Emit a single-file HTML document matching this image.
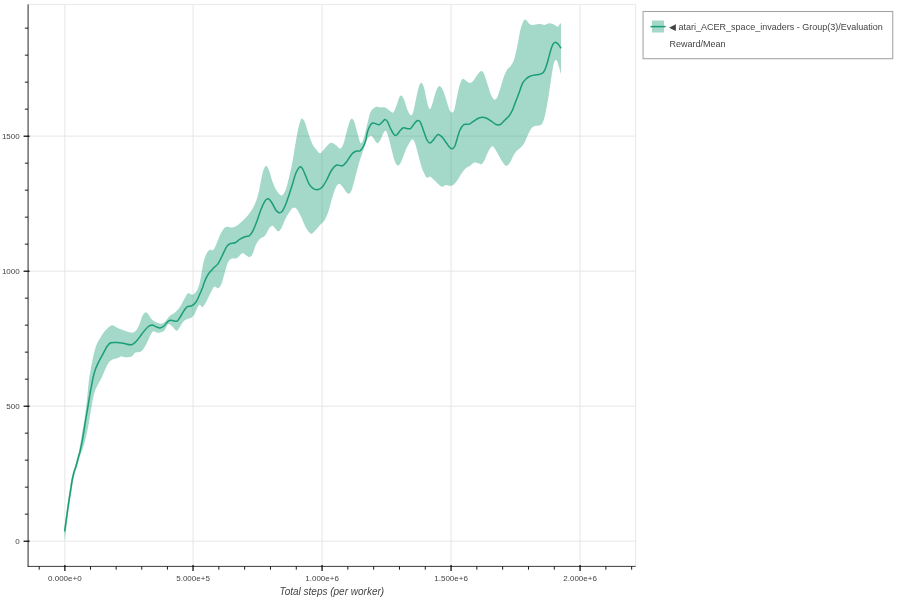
<!DOCTYPE html>
<html><head><meta charset="utf-8"><title>Plot</title>
<style>html,body{margin:0;padding:0;background:#fff;width:900px;height:600px;overflow:hidden}</style></head>
<body>
<svg width="900" height="600" viewBox="0 0 900 600" style="position:absolute;left:0;top:0">
<rect x="0" y="0" width="900" height="600" fill="#fff"/>
<path d="M64.85 4.40V566.40M193.05 4.40V566.40M322.07 4.40V566.40M451.07 4.40V566.40M580.07 4.40V566.40M28.08 541.15H635.60M28.08 406.15H635.60M28.08 271.15H635.60M28.08 136.15H635.60" stroke="#e5e5e5" stroke-width="0.95" fill="none"/>
<path d="M28.08 4.40H635.60V566.40" stroke="#e5e5e5" stroke-width="0.85" fill="none"/>
<path d="M64.3 530.0C64.8 526.1 66.3 513.3 67.2 506.5C68.1 499.7 69.1 493.7 69.8 489.0C70.5 484.3 70.9 481.4 71.5 478.5C72.1 475.6 72.6 473.5 73.2 471.5C73.8 469.5 74.3 468.8 75.0 466.3C75.7 463.8 76.8 459.3 77.5 456.6C78.2 453.9 78.4 454.6 79.2 450.0C80.1 445.4 81.8 434.8 82.8 429.0C83.7 423.2 84.5 419.3 85.1 415.0C85.7 410.7 86.1 407.2 86.6 403.3C87.0 399.4 87.5 395.0 87.8 391.7C88.1 388.4 88.2 386.6 88.6 383.5C89.0 380.4 89.3 377.2 90.0 373.3C90.7 369.4 91.5 364.4 92.5 360.0C93.5 355.6 94.5 350.3 95.8 346.7C97.0 343.1 98.5 340.9 100.0 338.3C101.5 335.7 103.3 332.8 105.0 330.8C106.7 328.8 108.6 327.1 110.0 326.2C111.4 325.3 111.9 325.1 113.3 325.5C114.7 325.9 116.3 327.4 118.3 328.3C120.2 329.2 122.8 330.1 125.0 330.8C127.2 331.6 129.9 332.8 131.7 332.8C133.5 332.8 134.6 332.1 135.8 330.8C137.1 329.5 138.1 327.5 139.2 325.0C140.3 322.5 141.4 317.9 142.5 315.8C143.6 313.7 144.5 312.5 145.5 312.2C146.5 311.9 147.3 313.0 148.3 314.2C149.3 315.4 150.3 317.8 151.7 319.2C153.1 320.6 155.2 321.8 156.7 322.5C158.2 323.2 159.4 323.8 160.8 323.7C162.2 323.6 163.5 323.0 165.0 321.7C166.5 320.4 168.3 317.3 170.0 315.8C171.7 314.3 173.3 314.0 175.0 312.5C176.7 311.0 178.5 308.9 180.0 306.7C181.5 304.5 182.9 301.4 184.2 299.2C185.5 297.0 186.6 294.1 188.0 293.3C189.4 292.6 191.1 295.1 192.5 294.7C193.9 294.3 195.4 293.0 196.7 290.8C197.9 288.6 198.9 286.3 200.0 281.7C201.1 277.1 202.2 268.0 203.3 263.3C204.4 258.6 205.6 255.6 206.7 253.3C207.8 251.0 208.9 250.2 210.0 249.7C211.1 249.1 212.2 251.1 213.3 250.0C214.4 248.9 215.6 245.8 216.7 243.3C217.8 240.8 218.8 237.5 220.0 235.0C221.2 232.5 222.9 229.7 224.2 228.3C225.4 226.9 226.1 226.8 227.5 226.7C228.9 226.6 231.0 227.7 232.5 227.5C234.0 227.3 235.3 226.6 236.7 225.8C238.1 225.0 239.1 224.0 240.8 222.5C242.5 221.0 244.9 218.8 246.7 216.7C248.5 214.6 250.2 212.5 251.7 210.0C253.2 207.5 254.6 205.0 255.8 201.7C257.1 198.4 258.1 194.7 259.2 190.0C260.3 185.3 261.5 177.2 262.5 173.3C263.5 169.4 264.3 167.9 265.0 166.7C265.7 165.5 266.0 165.5 266.7 166.2C267.4 166.9 268.2 168.2 269.2 170.8C270.2 173.4 271.2 178.4 272.5 181.7C273.8 185.0 275.3 188.5 276.7 190.8C278.1 193.1 279.7 194.7 280.8 195.3C281.9 195.9 282.3 195.6 283.3 194.2C284.3 192.8 285.6 190.2 286.7 186.7C287.8 183.2 289.0 177.5 290.0 173.3C291.0 169.1 291.5 167.0 292.5 161.7C293.5 156.4 294.8 147.3 295.8 141.7C296.8 136.1 297.5 131.9 298.3 128.3C299.1 124.7 300.1 121.6 300.8 120.0C301.5 118.4 301.8 118.3 302.5 118.7C303.2 119.1 304.0 120.1 305.0 122.5C306.0 124.9 307.1 129.7 308.3 133.3C309.6 136.9 311.1 141.4 312.5 144.2C313.9 147.0 315.4 148.5 316.7 150.0C317.9 151.5 318.8 153.4 320.0 153.3C321.2 153.2 322.7 150.8 324.2 149.2C325.7 147.6 327.8 144.8 329.2 143.8C330.6 142.8 331.2 142.7 332.5 143.0C333.8 143.3 335.4 144.9 336.7 145.8C337.9 146.8 338.9 149.0 340.0 148.7C341.1 148.4 342.2 147.0 343.3 144.2C344.4 141.4 345.6 135.6 346.7 131.7C347.8 127.8 349.1 123.0 350.0 120.8C350.9 118.6 351.3 118.5 352.0 118.7C352.7 118.9 353.3 119.3 354.2 121.7C355.1 124.1 356.4 129.7 357.5 133.3C358.6 136.9 359.7 142.7 360.8 143.3C361.9 143.9 363.1 140.0 364.2 136.7C365.3 133.4 366.5 127.2 367.5 123.3C368.5 119.4 369.2 115.6 370.0 113.3C370.8 111.0 371.4 110.3 372.5 109.2C373.6 108.1 375.3 107.0 376.7 106.7C378.1 106.4 379.4 107.4 380.8 107.5C382.2 107.6 383.6 107.0 385.0 107.5C386.4 108.0 387.8 109.5 389.2 110.3C390.6 111.1 392.1 113.4 393.3 112.5C394.6 111.6 395.7 107.5 396.7 105.0C397.7 102.5 398.4 99.1 399.2 97.5C400.0 95.9 400.5 95.1 401.3 95.5C402.1 95.9 403.2 97.6 404.2 100.0C405.2 102.4 406.4 107.5 407.5 110.0C408.6 112.5 409.8 115.0 410.8 115.3C411.8 115.6 412.5 114.2 413.3 111.7C414.1 109.2 414.8 104.3 415.8 100.0C416.8 95.7 418.2 88.6 419.2 85.8C420.2 83.0 420.9 82.6 421.7 83.0C422.5 83.4 423.4 85.5 424.2 88.3C425.0 91.1 425.9 96.8 426.7 100.0C427.4 103.2 428.1 106.0 428.7 107.5C429.3 109.0 429.7 109.4 430.3 108.7C430.9 108.0 431.6 106.1 432.5 103.3C433.4 100.5 434.8 94.5 435.8 91.7C436.8 88.9 437.6 87.6 438.3 86.7C439.0 85.8 439.3 85.8 440.0 86.2C440.7 86.6 441.5 87.2 442.5 89.2C443.5 91.2 444.7 95.0 445.8 98.3C446.9 101.6 448.2 106.8 449.2 109.2C450.2 111.6 451.2 112.4 452.0 112.5C452.8 112.6 453.4 112.4 454.2 110.0C455.0 107.6 455.9 102.2 456.7 98.3C457.5 94.4 458.4 89.8 459.2 86.7C460.0 83.7 461.0 81.3 461.7 80.0C462.4 78.7 462.5 78.6 463.3 78.8C464.1 79.0 465.6 80.6 466.7 81.3C467.8 82.0 468.9 83.1 470.0 83.0C471.1 82.9 472.2 82.0 473.3 80.8C474.4 79.6 475.6 77.3 476.7 75.8C477.8 74.3 479.1 72.5 480.0 71.7C480.9 70.9 481.3 70.8 482.0 71.2C482.7 71.6 483.3 72.0 484.2 74.2C485.1 76.4 486.4 80.9 487.5 84.2C488.6 87.5 489.8 91.8 490.8 94.2C491.8 96.6 492.6 97.8 493.3 98.7C494.1 99.6 494.6 99.8 495.3 99.5C496.0 99.2 496.6 98.8 497.5 96.7C498.4 94.6 499.7 90.2 500.8 86.7C501.9 83.2 503.1 78.7 504.2 75.8C505.3 72.9 506.4 70.9 507.5 69.2C508.6 67.5 509.7 67.5 510.8 65.8C511.9 64.1 513.1 62.7 514.2 59.2C515.3 55.7 516.5 49.6 517.5 45.0C518.5 40.4 519.2 35.3 520.0 31.7C520.8 28.1 521.8 25.3 522.5 23.3C523.2 21.3 523.8 20.3 524.5 19.8C525.2 19.3 525.8 19.6 526.5 20.2C527.2 20.8 528.1 22.7 529.0 23.5C529.9 24.3 530.7 24.9 532.0 25.0C533.3 25.1 535.2 24.4 536.7 24.2C538.2 24.0 539.8 23.9 541.0 24.0C542.2 24.1 543.0 25.0 544.0 25.0C545.0 25.0 546.1 24.3 547.0 24.0C547.9 23.7 548.5 23.3 549.5 23.3C550.5 23.3 551.7 23.6 552.7 24.0C553.7 24.4 554.7 25.2 555.5 25.6C556.3 26.1 557.0 26.9 557.6 26.7C558.2 26.5 558.7 25.3 559.3 24.7C559.9 24.1 560.7 23.3 561.0 23.0L561.0 74.0C560.7 73.0 559.9 70.1 559.3 68.0C558.7 65.9 557.9 62.9 557.3 61.6C556.7 60.3 556.1 59.6 555.5 60.0C554.9 60.4 554.3 61.5 553.7 64.0C553.1 66.5 552.5 70.3 551.7 75.0C551.0 79.7 550.0 86.7 549.2 92.0C548.4 97.3 547.5 102.6 546.7 107.0C545.9 111.4 545.0 115.4 544.2 118.3C543.4 121.2 542.7 123.0 541.7 124.2C540.7 125.4 539.5 125.2 538.3 125.5C537.0 125.8 535.5 125.7 534.2 126.3C533.0 126.9 531.9 127.6 530.8 129.2C529.7 130.8 528.6 133.5 527.5 135.8C526.4 138.2 525.5 141.2 524.2 143.3C523.0 145.4 521.2 147.1 520.0 148.3C518.8 149.6 517.8 149.6 516.7 150.8C515.6 152.1 514.4 153.9 513.3 155.8C512.2 157.8 511.1 160.8 510.0 162.5C508.9 164.2 507.7 165.5 506.7 165.8C505.7 166.1 505.2 165.3 504.2 164.2C503.2 163.1 502.1 161.3 500.8 159.2C499.6 157.1 497.9 153.8 496.7 151.7C495.4 149.6 494.3 147.4 493.3 146.7C492.3 146.0 491.8 146.4 490.8 147.5C489.8 148.6 488.6 151.1 487.5 153.3C486.4 155.5 485.2 159.0 484.2 160.8C483.2 162.6 482.3 163.8 481.3 164.2C480.3 164.6 479.5 163.6 478.3 163.3C477.1 163.0 475.6 162.1 474.2 162.5C472.8 162.9 471.4 164.8 470.0 165.8C468.6 166.8 467.2 167.1 465.8 168.3C464.4 169.6 463.1 171.4 461.7 173.3C460.3 175.2 458.8 178.2 457.5 180.0C456.2 181.8 455.4 183.2 454.2 184.2C452.9 185.2 451.4 185.7 450.0 185.8C448.6 185.9 447.1 184.8 445.8 185.0C444.6 185.2 443.6 186.7 442.5 186.7C441.4 186.7 440.4 186.0 439.2 185.0C437.9 184.0 436.4 182.1 435.0 180.8C433.6 179.5 432.2 177.6 430.8 177.0C429.4 176.4 427.8 178.1 426.7 177.5C425.6 176.9 425.0 175.0 424.2 173.3C423.4 171.6 422.7 170.6 421.7 167.5C420.7 164.4 419.4 159.0 418.3 155.0C417.2 151.0 416.0 145.9 415.0 143.3C414.0 140.7 413.5 139.2 412.5 139.2C411.5 139.2 410.4 141.2 409.2 143.3C407.9 145.4 406.4 148.5 405.0 151.7C403.6 154.9 402.0 160.2 400.8 162.5C399.6 164.8 399.0 165.6 398.0 165.5C397.0 165.4 396.1 164.3 395.0 161.7C393.9 159.1 392.8 154.2 391.7 150.0C390.6 145.8 389.3 139.9 388.3 136.7C387.3 133.5 386.6 131.4 385.8 130.8C385.0 130.2 384.1 131.9 383.3 133.3C382.5 134.7 381.7 137.6 380.8 139.2C379.9 140.8 378.8 142.6 378.0 143.0C377.2 143.4 376.7 142.8 375.8 141.7C374.9 140.6 373.5 137.6 372.5 136.7C371.5 135.8 371.0 135.6 370.0 136.2C369.0 136.8 367.8 137.7 366.7 140.0C365.6 142.3 364.6 146.2 363.3 150.0C362.1 153.8 360.6 157.8 359.2 162.5C357.8 167.2 356.2 173.7 355.0 178.3C353.8 182.9 352.7 187.4 351.7 190.0C350.7 192.6 350.0 193.3 349.2 193.7C348.4 194.1 347.8 193.7 346.7 192.5C345.6 191.3 343.8 188.2 342.5 186.7C341.2 185.2 340.3 183.6 339.2 183.7C338.1 183.8 336.9 185.3 335.8 187.5C334.7 189.7 333.8 192.7 332.5 196.7C331.2 200.7 329.7 207.7 328.3 211.7C326.9 215.7 325.6 218.6 324.2 220.8C322.8 223.0 321.5 223.3 320.0 225.0C318.5 226.7 316.5 229.4 315.0 230.8C313.5 232.2 312.3 234.2 310.8 233.7C309.3 233.1 307.3 230.1 305.8 227.5C304.3 224.9 303.1 221.2 301.7 218.3C300.3 215.4 298.8 211.8 297.5 210.0C296.2 208.2 295.3 207.5 294.2 207.5C293.1 207.5 292.2 208.2 290.8 210.0C289.4 211.8 287.3 215.4 285.8 218.3C284.3 221.2 282.9 225.3 281.7 227.5C280.5 229.7 279.7 231.0 278.7 231.3C277.7 231.6 276.8 230.1 275.8 229.2C274.8 228.3 273.6 226.0 272.5 225.8C271.4 225.7 270.4 226.6 269.2 228.3C267.9 230.0 266.5 234.1 265.0 235.8C263.5 237.6 261.5 237.3 260.0 238.8C258.5 240.3 257.1 242.4 255.8 245.0C254.6 247.6 253.5 252.2 252.5 254.2C251.5 256.2 250.7 256.7 249.7 257.0C248.7 257.3 247.9 256.4 246.7 255.8C245.5 255.2 244.2 252.9 242.5 253.3C240.8 253.7 238.4 257.5 236.7 258.3C235.0 259.1 233.9 257.7 232.5 258.3C231.1 258.9 229.6 259.5 228.3 261.7C227.1 263.9 226.1 268.1 225.0 271.7C223.9 275.3 222.8 280.5 221.7 283.3C220.6 286.1 219.6 287.7 218.3 288.3C217.1 288.9 215.6 285.7 214.2 286.7C212.8 287.7 211.4 291.6 210.0 294.2C208.6 296.8 207.1 300.4 205.8 302.5C204.6 304.6 203.6 306.6 202.5 307.0C201.4 307.4 200.4 303.9 199.2 305.0C197.9 306.1 196.2 311.2 195.0 313.3C193.8 315.4 192.8 316.6 191.7 317.5C190.6 318.4 189.6 318.1 188.3 318.7C187.1 319.2 185.6 319.5 184.2 320.8C182.8 322.1 181.2 325.0 180.0 326.7C178.8 328.4 177.9 330.8 176.7 330.8C175.4 330.8 173.9 327.8 172.5 326.7C171.1 325.6 169.7 323.5 168.3 324.2C166.9 324.9 165.6 329.4 164.2 330.8C162.8 332.2 161.2 332.2 160.0 332.5C158.8 332.8 157.8 332.7 156.7 332.5C155.6 332.3 154.3 330.8 153.3 331.2C152.3 331.6 151.8 332.7 150.7 334.7C149.6 336.7 148.0 340.8 146.7 343.3C145.4 345.9 143.8 348.6 142.7 350.0C141.6 351.4 141.2 351.6 140.0 352.0C138.8 352.4 136.6 351.8 135.3 352.5C134.0 353.2 133.4 355.4 132.0 356.2C130.6 357.0 128.2 357.1 126.7 357.2C125.2 357.3 124.2 357.1 123.3 357.0C122.4 356.9 122.1 356.2 121.3 356.3C120.5 356.4 119.9 357.2 118.3 357.8C116.7 358.4 113.4 359.1 111.7 360.0C110.0 360.9 109.5 361.4 108.3 363.3C107.0 365.2 105.4 369.1 104.2 371.7C103.0 374.3 102.0 377.0 101.0 379.0C100.0 381.0 99.4 381.8 98.5 383.5C97.6 385.2 96.5 387.0 95.6 389.3C94.7 391.6 94.0 394.4 93.2 397.5C92.5 400.6 92.1 403.5 91.3 408.0C90.5 412.5 89.6 418.9 88.6 424.3C87.6 429.8 86.2 436.4 85.1 440.7C84.0 445.0 83.1 447.4 82.2 450.0C81.3 452.6 80.6 453.9 79.8 456.6C79.0 459.3 77.9 463.8 77.2 466.3C76.5 468.8 76.0 469.5 75.4 471.5C74.8 473.5 74.2 475.6 73.6 478.5C73.0 481.4 72.5 484.3 71.8 489.0C71.1 493.7 70.4 497.8 69.2 506.5C68.0 515.2 65.5 535.2 64.8 541.0Z" fill="#1b9e77" fill-opacity="0.4" stroke="none"/>
<path d="M64.6 531.3C65.2 527.2 67.1 513.5 68.1 506.5C69.1 499.4 70.0 493.7 70.8 489.0C71.5 484.3 71.9 481.4 72.5 478.5C73.1 475.6 73.7 473.5 74.2 471.5C74.8 469.5 75.3 468.8 76.0 466.3C76.7 463.8 77.9 459.3 78.6 456.6C79.3 453.9 79.6 453.6 80.4 450.0C81.2 446.4 82.4 440.1 83.3 434.8C84.2 429.6 85.1 423.3 85.9 418.5C86.7 413.7 87.4 410.1 88.0 406.2C88.6 402.4 89.2 398.6 89.8 395.2C90.3 391.8 90.9 388.9 91.5 385.8C92.1 382.7 92.6 379.6 93.3 376.7C94.0 373.8 94.8 370.9 95.8 368.3C96.8 365.7 98.0 363.3 99.2 360.8C100.5 358.3 101.9 355.8 103.3 353.3C104.7 350.8 106.2 347.6 107.5 345.8C108.8 344.1 109.3 343.4 110.8 342.8C112.3 342.2 114.6 342.4 116.7 342.5C118.8 342.6 120.8 342.9 123.3 343.3C125.8 343.7 129.5 345.1 131.7 344.7C133.9 344.3 135.0 342.6 136.7 340.8C138.4 339.1 140.5 335.8 141.7 334.2C142.9 332.6 142.9 332.6 144.0 331.3C145.1 330.1 146.7 327.8 148.0 326.7C149.3 325.6 150.7 324.9 152.0 324.9C153.3 324.9 154.7 326.2 156.0 326.7C157.3 327.2 158.7 328.1 160.0 328.0C161.3 327.9 162.7 327.1 164.0 326.0C165.3 324.9 166.8 322.2 168.0 321.3C169.2 320.4 169.9 320.3 171.3 320.3C172.8 320.3 175.2 321.8 176.7 321.3C178.1 320.8 178.8 319.1 180.0 317.3C181.2 315.5 182.8 312.5 184.0 310.7C185.2 308.9 186.0 307.5 187.3 306.7C188.6 305.9 190.6 306.4 192.0 305.6C193.4 304.8 194.8 303.7 196.0 302.0C197.2 300.3 198.2 297.8 199.3 295.3C200.4 292.9 201.9 289.4 202.7 287.3C203.5 285.2 203.3 284.7 204.2 282.5C205.1 280.3 206.8 276.6 208.3 274.2C209.8 271.8 211.6 270.1 213.3 268.3C215.0 266.5 216.8 265.5 218.3 263.3C219.8 261.1 221.1 257.8 222.5 255.0C223.9 252.2 225.4 248.6 226.7 246.7C227.9 244.8 228.6 244.3 230.0 243.7C231.4 243.0 233.3 243.6 235.0 242.8C236.7 242.1 238.3 240.2 240.0 239.2C241.7 238.2 243.5 237.3 245.0 236.7C246.5 236.1 247.9 236.6 249.2 235.8C250.4 235.0 251.2 234.0 252.5 231.7C253.8 229.3 255.3 225.3 256.7 221.7C258.1 218.1 259.4 213.5 260.8 210.0C262.2 206.5 263.8 202.7 265.0 200.8C266.2 198.9 267.2 198.4 268.3 198.7C269.4 199.0 270.4 200.6 271.7 202.5C272.9 204.4 274.6 208.3 275.8 210.0C277.1 211.7 278.1 212.7 279.2 212.8C280.3 212.9 281.2 212.7 282.5 210.8C283.8 209.0 285.2 205.7 286.7 201.7C288.2 197.7 290.2 191.4 291.7 186.7C293.2 182.0 294.6 176.5 295.8 173.3C297.1 170.1 298.2 168.5 299.2 167.5C300.2 166.5 300.7 166.4 301.7 167.5C302.7 168.6 303.8 171.4 305.0 174.2C306.2 177.0 307.8 181.8 309.2 184.2C310.6 186.6 311.8 187.8 313.3 188.7C314.8 189.6 316.8 189.8 318.3 189.5C319.8 189.2 321.1 188.3 322.5 186.7C323.9 185.1 325.2 182.8 326.7 180.0C328.2 177.2 330.0 172.5 331.7 170.0C333.4 167.5 334.9 165.7 336.7 165.0C338.5 164.3 340.8 166.4 342.5 165.8C344.2 165.2 345.2 163.6 346.7 161.7C348.2 159.8 350.2 155.9 351.7 154.2C353.2 152.5 354.4 151.9 355.8 151.3C357.2 150.7 358.8 151.6 360.0 150.8C361.2 150.0 362.3 148.5 363.3 146.7C364.3 144.9 365.1 142.5 365.8 140.0C366.5 137.5 366.8 134.1 367.5 131.7C368.2 129.3 369.2 127.2 370.0 125.8C370.8 124.3 371.5 123.3 372.5 123.0C373.5 122.7 374.7 123.4 375.8 123.7C376.9 124.0 378.1 125.0 379.2 124.7C380.3 124.4 381.5 122.6 382.5 121.7C383.5 120.8 384.2 119.5 385.0 119.5C385.8 119.5 386.5 120.1 387.5 121.7C388.5 123.3 389.7 127.0 390.8 129.2C391.9 131.4 393.2 133.7 394.2 134.7C395.2 135.7 395.7 135.7 396.7 135.0C397.7 134.3 398.9 132.0 400.0 130.8C401.1 129.6 402.1 128.2 403.3 127.8C404.6 127.4 406.2 128.6 407.5 128.7C408.8 128.8 409.7 129.1 410.8 128.3C411.9 127.5 413.1 125.1 414.2 123.8C415.3 122.5 416.5 120.8 417.5 120.5C418.5 120.2 419.0 120.1 420.0 121.7C421.0 123.3 422.2 127.0 423.3 130.0C424.4 133.0 425.6 137.3 426.7 139.5C427.8 141.7 428.9 142.9 430.0 143.0C431.1 143.1 432.2 141.2 433.3 140.0C434.4 138.8 435.7 136.4 436.7 135.5C437.7 134.6 438.2 134.4 439.2 134.7C440.2 135.0 441.2 136.1 442.5 137.5C443.8 138.9 445.4 141.6 446.7 143.3C447.9 145.0 449.0 146.9 450.0 147.8C451.0 148.7 451.7 149.0 452.5 148.7C453.3 148.4 454.2 147.7 455.0 145.8C455.8 143.9 456.7 140.1 457.5 137.5C458.3 134.9 459.0 132.1 460.0 130.0C461.0 127.9 462.2 126.0 463.3 125.0C464.4 124.0 465.6 124.4 466.7 124.2C467.8 124.0 468.8 124.4 470.0 123.8C471.2 123.2 472.8 121.7 474.2 120.8C475.6 119.9 476.9 118.9 478.3 118.3C479.7 117.7 481.1 117.2 482.5 117.2C483.9 117.2 485.3 117.7 486.7 118.3C488.1 118.9 489.4 119.9 490.8 120.8C492.2 121.7 493.8 123.1 495.0 123.8C496.2 124.5 497.3 124.9 498.3 125.0C499.3 125.1 499.7 125.0 500.8 124.2C501.9 123.4 503.6 121.4 505.0 120.0C506.4 118.6 507.9 117.5 509.2 115.8C510.4 114.1 511.4 112.4 512.5 110.0C513.6 107.6 514.7 104.2 515.8 101.3C516.9 98.4 518.1 95.5 519.2 92.5C520.3 89.5 521.4 85.5 522.5 83.3C523.6 81.1 524.5 80.4 525.8 79.2C527.0 78.0 528.5 77.0 530.0 76.3C531.5 75.6 533.3 75.3 535.0 75.0C536.7 74.7 538.6 74.6 540.0 74.2C541.4 73.8 542.3 73.6 543.3 72.5C544.3 71.4 545.0 69.7 545.8 67.5C546.6 65.3 547.5 62.1 548.3 59.2C549.1 56.3 550.0 52.5 550.8 50.0C551.6 47.5 552.3 45.5 553.0 44.2C553.7 42.9 554.3 42.6 555.0 42.4C555.7 42.2 556.4 42.8 557.0 43.2C557.6 43.6 558.1 44.0 558.8 44.9C559.5 45.8 560.6 47.7 561.0 48.3" fill="none" stroke="#1b9e77" stroke-width="1.5" stroke-linejoin="round"/>
<path d="M28.08 4.40V566.80" stroke="#000" stroke-width="0.9" fill="none" stroke-opacity="0.95"/>
<path d="M27.68 566.40H635.60" stroke="#000" stroke-width="0.9" fill="none" stroke-opacity="0.85"/>
<path d="M64.85 564.90V570.90M193.05 564.90V570.90M322.07 564.90V570.90M451.07 564.90V570.90M580.07 564.90V570.90M23.58 541.15H29.58M23.58 406.15H29.58M23.58 271.15H29.58M23.58 136.15H29.58" stroke="#000" stroke-opacity="0.8" stroke-width="1.5" fill="none"/>
<path d="M39.21 566.40V569.70M90.49 566.40V569.70M116.13 566.40V569.70M141.77 566.40V569.70M167.41 566.40V569.70M218.85 566.40V569.70M244.66 566.40V569.70M270.46 566.40V569.70M296.27 566.40V569.70M347.87 566.40V569.70M373.67 566.40V569.70M399.47 566.40V569.70M425.27 566.40V569.70M476.87 566.40V569.70M502.67 566.40V569.70M528.47 566.40V569.70M554.27 566.40V569.70M605.87 566.40V569.70M631.67 566.40V569.70M24.88 514.15H28.08M24.88 487.15H28.08M24.88 460.15H28.08M24.88 433.15H28.08M24.88 379.15H28.08M24.88 352.15H28.08M24.88 325.15H28.08M24.88 298.15H28.08M24.88 244.15H28.08M24.88 217.15H28.08M24.88 190.15H28.08M24.88 163.15H28.08M24.88 109.15H28.08M24.88 82.15H28.08M24.88 55.15H28.08M24.88 28.15H28.08" stroke="#000" stroke-opacity="0.9" stroke-width="1" fill="none"/>
<g font-family="Liberation Sans, Arial, sans-serif" font-size="8px" fill="#444">
<text x="64.85" y="581" text-anchor="middle">0.000e+0</text>
<text x="193.05" y="581" text-anchor="middle">5.000e+5</text>
<text x="322.07" y="581" text-anchor="middle">1.000e+6</text>
<text x="451.07" y="581" text-anchor="middle">1.500e+6</text>
<text x="580.07" y="581" text-anchor="middle">2.000e+6</text>
<text x="19.7" y="544.05" text-anchor="end">0</text>
<text x="19.7" y="409.05" text-anchor="end">500</text>
<text x="19.7" y="274.05" text-anchor="end">1000</text>
<text x="19.7" y="139.05" text-anchor="end">1500</text>
</g>
<text x="331.8" y="595" text-anchor="middle" font-family="Liberation Sans, Arial, sans-serif" font-style="italic" font-size="10px" fill="#444">Total steps (per worker)</text>
<rect x="643.07" y="11.5" width="249.68" height="47.2" fill="#fff" stroke="#a3a3a3" stroke-width="1.05"/>
<rect x="652" y="20.5" width="12" height="12" fill="#1b9e77" fill-opacity="0.4"/>
<path d="M650.5 26.6H665.7" stroke="#1b9e77" stroke-width="1.5"/>
<g font-family="Liberation Sans, Arial, sans-serif" font-size="9px" fill="#444">
<text x="668.9" y="29.8" xml:space="preserve"><tspan font-size="8.7px">◀</tspan><tspan x="676.1"> atari_ACER_space_invaders - Group(3)/Evaluation</tspan></text>
<text x="669.5" y="46.8">Reward/Mean</text>
</g>
</svg>
</body></html>
